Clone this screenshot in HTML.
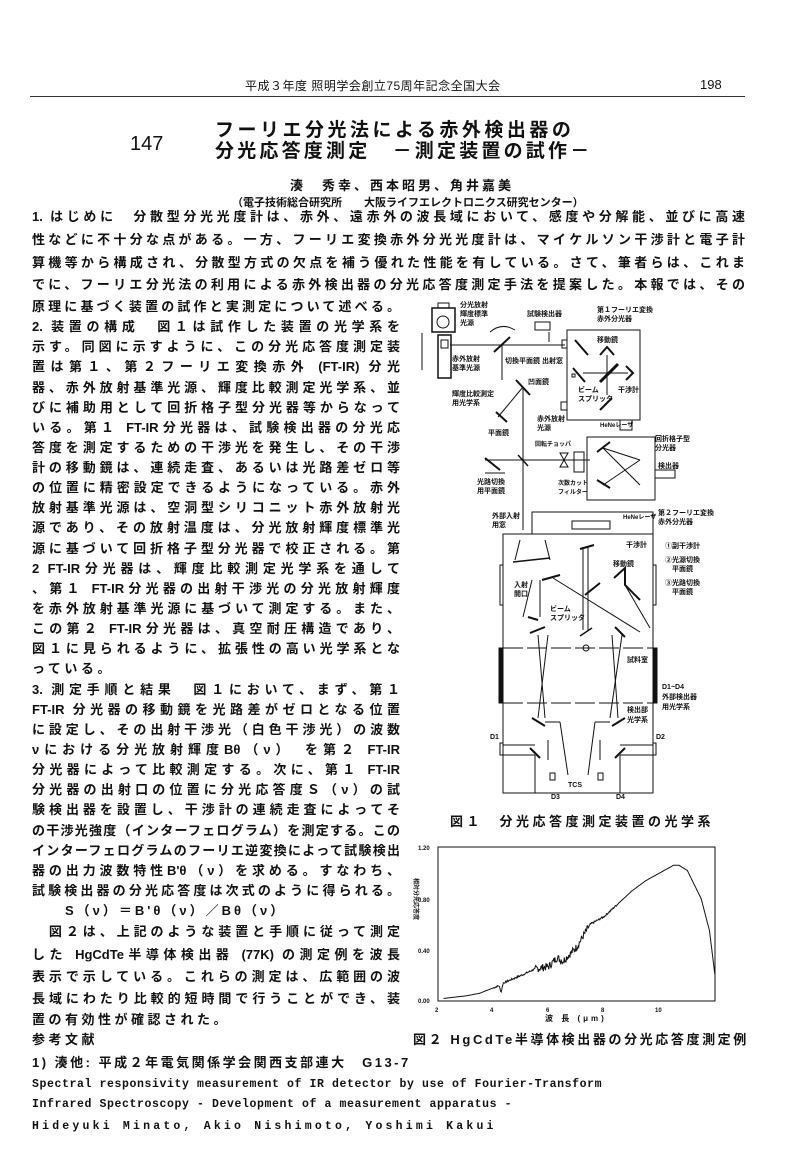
<!DOCTYPE html>
<html><head><meta charset="utf-8">
<style>
html,body{margin:0;padding:0;background:#fff;}
body{width:785px;height:1157px;position:relative;overflow:hidden;font-family:"Liberation Sans","Noto Sans CJK JP",sans-serif;color:#111;}
.t{position:absolute;white-space:nowrap;font-weight:bold;font-size:13px;line-height:14px;}
.j{text-align:justify;text-align-last:justify;white-space:normal;height:14px;overflow:hidden;}
.m{font-family:"Liberation Mono","Noto Sans CJK JP",monospace;}
svg{position:absolute;left:0;top:0;}
svg text{font-family:"Liberation Sans","Noto Sans CJK JP",sans-serif;font-weight:bold;}
</style></head><body>

<div class="t" style="left:245px;top:79px;font-size:12px;font-weight:normal;letter-spacing:0.5px">平成３年度 照明学会創立75周年記念全国大会</div>
<div class="t" style="left:700px;top:78px;font-size:13px;font-weight:normal">198</div>
<div style="position:absolute;left:30px;top:96px;width:715px;height:1px;background:#333"></div>

<div class="t" style="left:130px;top:133px;font-size:20px;line-height:22px;font-weight:normal">147</div>
<div class="t" style="left:215px;top:120px;font-size:19px;line-height:22px;letter-spacing:3.5px">フーリエ分光法による赤外検出器の</div>
<div class="t" style="left:215px;top:141px;font-size:19px;line-height:22px;letter-spacing:3.2px">分光応答度測定　－測定装置の試作－</div>

<div class="t" style="left:290px;top:179px;letter-spacing:3px">湊　秀幸、西本昭男、角井嘉美</div>
<div class="t" style="left:232px;top:197px;font-size:11px;line-height:12px;letter-spacing:0px">（電子技術総合研究所　　大阪ライフエレクトロニクス研究センター）</div>

<div class="t j" style="left:32px;top:210px;width:713px">1. はじめに　分散型分光光度計は、赤外、遠赤外の波長域において、感度や分解能、並びに高速</div>
<div class="t j" style="left:32px;top:233px;width:713px">性などに不十分な点がある。一方、フーリエ変換赤外分光光度計は、マイケルソン干渉計と電子計</div>
<div class="t j" style="left:32px;top:256px;width:713px">算機等から構成され、分散型方式の欠点を補う優れた性能を有している。さて、筆者らは、これま</div>
<div class="t j" style="left:32px;top:278px;width:713px">でに、フーリエ分光法の利用による赤外検出器の分光応答度測定手法を提案した。本報では、その</div>

<div class="t j" style="left:32px;top:300px;width:368px">原理に基づく装置の試作と実測定について述べる。</div>
<div class="t j" style="left:32px;top:320px;width:368px">2. 装置の構成　図１は試作した装置の光学系を</div>
<div class="t j" style="left:32px;top:340px;width:368px">示す。同図に示すように、この分光応答度測定装</div>
<div class="t j" style="left:32px;top:360px;width:368px">置は第１、第２フーリエ変換赤外 (FT-IR) 分光</div>
<div class="t j" style="left:32px;top:381px;width:368px">器、赤外放射基準光源、輝度比較測定光学系、並</div>
<div class="t j" style="left:32px;top:401px;width:368px">びに補助用として回折格子型分光器等からなって</div>
<div class="t j" style="left:32px;top:421px;width:368px">いる。第１ FT-IR分光器は、試験検出器の分光応</div>
<div class="t j" style="left:32px;top:441px;width:368px">答度を測定するための干渉光を発生し、その干渉</div>
<div class="t j" style="left:32px;top:461px;width:368px">計の移動鏡は、連続走査、あるいは光路差ゼロ等</div>
<div class="t j" style="left:32px;top:481px;width:368px">の位置に精密設定できるようになっている。赤外</div>
<div class="t j" style="left:32px;top:501px;width:368px">放射基準光源は、空洞型シリコニット赤外放射光</div>
<div class="t j" style="left:32px;top:521px;width:368px">源であり、その放射温度は、分光放射輝度標準光</div>
<div class="t j" style="left:32px;top:542px;width:368px">源に基づいて回折格子型分光器で校正される。第</div>
<div class="t j" style="left:32px;top:562px;width:368px">2 FT-IR分光器は、輝度比較測定光学系を通して</div>
<div class="t j" style="left:32px;top:582px;width:368px">、第１ FT-IR分光器の出射干渉光の分光放射輝度</div>
<div class="t j" style="left:32px;top:602px;width:368px">を赤外放射基準光源に基づいて測定する。また、</div>
<div class="t j" style="left:32px;top:622px;width:368px">この第２ FT-IR分光器は、真空耐圧構造であり、</div>
<div class="t j" style="left:32px;top:642px;width:368px">図１に見られるように、拡張性の高い光学系とな</div>
<div class="t" style="left:32px;top:662px;letter-spacing:3.5px">っている。</div>
<div class="t j" style="left:32px;top:683px;width:368px">3. 測定手順と結果　図１において、まず、第１</div>
<div class="t j" style="left:32px;top:703px;width:368px">FT-IR 分光器の移動鏡を光路差がゼロとなる位置</div>
<div class="t j" style="left:32px;top:723px;width:368px">に設定し、その出射干渉光（白色干渉光）の波数</div>
<div class="t j" style="left:32px;top:743px;width:368px">νにおける分光放射輝度Bθ（ν）　を第２ FT-IR</div>
<div class="t j" style="left:32px;top:763px;width:368px">分光器によって比較測定する。次に、第１ FT-IR</div>
<div class="t j" style="left:32px;top:783px;width:368px">分光器の出射口の位置に分光応答度Ｓ（ν）の試</div>
<div class="t j" style="left:32px;top:803px;width:368px">験検出器を設置し、干渉計の連続走査によってそ</div>
<div class="t j" style="left:32px;top:824px;width:368px">の干渉光強度（インターフェログラム）を測定する。この</div>
<div class="t j" style="left:32px;top:844px;width:368px">インターフェログラムのフーリエ逆変換によって試験検出</div>
<div class="t j" style="left:32px;top:864px;width:368px">器の出力波数特性B'θ（ν）を求める。すなわち、</div>
<div class="t j" style="left:32px;top:884px;width:368px">試験検出器の分光応答度は次式のように得られる。</div>
<div class="t" style="left:65px;top:904px;letter-spacing:3px">S（ν）＝B'θ（ν）／Bθ（ν）</div>
<div class="t j" style="left:32px;top:925px;width:368px">　図２は、上記のような装置と手順に従って測定</div>
<div class="t j" style="left:32px;top:948px;width:368px">した HgCdTe半導体検出器 (77K) の測定例を波長</div>
<div class="t j" style="left:32px;top:970px;width:368px">表示で示している。これらの測定は、広範囲の波</div>
<div class="t j" style="left:32px;top:992px;width:368px">長域にわたり比較的短時間で行うことができ、装</div>
<div class="t" style="left:32px;top:1013px;letter-spacing:3.5px">置の有効性が確認された。</div>
<div class="t" style="left:32px;top:1033px;letter-spacing:3.5px">参考文献</div>
<div class="t" style="left:32px;top:1056px;letter-spacing:2.5px">1) 湊他: 平成２年電気関係学会関西支部連大　G13-7</div>
<div class="t m" style="left:32px;top:1078px;font-size:11.5px;letter-spacing:0.6px">Spectral responsivity measurement of IR detector by use of Fourier-Transform</div>
<div class="t m" style="left:32px;top:1098px;font-size:11.5px;letter-spacing:0.6px">Infrared Spectroscopy  - Development of a measurement apparatus -</div>
<div class="t m" style="left:32px;top:1120px;font-size:11.5px;letter-spacing:3.2px">Hideyuki Minato, Akio Nishimoto, Yoshimi Kakui</div>

<div class="t" style="left:450px;top:815px;letter-spacing:3.5px">図１　分光応答度測定装置の光学系</div>
<div class="t" style="left:413px;top:1033px;letter-spacing:2.6px">図２ HgCdTe半導体検出器の分光応答度測定例</div>

<svg width="785" height="1157" viewBox="0 0 785 1157" fill="none" stroke="#111" stroke-width="1">
<g font-size="7" fill="#111" stroke="none">
<text x="460" y="307">分光放射</text><text x="460" y="316">輝度標準</text><text x="460" y="325">光源</text>
<text x="527" y="316">試験検出器</text>
<text x="597" y="312">第１フーリエ変換</text><text x="597" y="321">赤外分光器</text>
<text x="597" y="342">移動鏡</text>
<text x="452" y="361">赤外放射</text><text x="452" y="370">基準光源</text>
<text x="505" y="363">切換平面鏡 出射窓</text>
<text x="528" y="384">凹面鏡</text>
<text x="452" y="396">輝度比較測定</text><text x="452" y="405">用光学系</text>
<text x="578" y="392">ビーム</text><text x="578" y="401">スプリッタ</text>
<text x="618" y="392">干渉計</text>
<text x="537" y="421">赤外放射</text><text x="537" y="430">光源</text>
<text x="600" y="427" font-size="6">HeNeレーザ</text>
<text x="488" y="435">平面鏡</text>
<text x="535" y="446" font-size="6">回転チョッパ</text>
<text x="655" y="441">回折格子型</text><text x="655" y="450">分光器</text>
<text x="658" y="468">検出器</text>
<text x="477" y="484">光路切換</text><text x="477" y="493">用平面鏡</text>
<text x="558" y="485" font-size="6">次数カット</text><text x="558" y="494" font-size="6">フィルター</text>
<text x="492" y="518">外部入射</text><text x="492" y="527">用窓</text>
<text x="623" y="519" font-size="6">HeNeレーザ</text>
<text x="658" y="515">第２フーリエ変換</text><text x="658" y="524">赤外分光器</text>
<text x="626" y="547">干渉計</text>
<text x="665" y="548">①副干渉計</text>
<text x="665" y="562">②光源切換</text><text x="672" y="571">平面鏡</text>
<text x="665" y="585">③光路切換</text><text x="672" y="594">平面鏡</text>
<text x="613" y="566">移動鏡</text>
<text x="514" y="587">入射</text><text x="514" y="596">開口</text>
<text x="550" y="611">ビーム</text><text x="550" y="620">スプリッタ</text>
<text x="627" y="662">試料室</text>
<text x="662" y="689">D1~D4</text><text x="662" y="699">外部検出器</text><text x="662" y="709">用光学系</text>
<text x="627" y="712">検出部</text><text x="627" y="722">光学系</text>
<text x="490" y="739">D1</text><text x="656" y="739">D2</text>
<text x="568" y="787">TCS</text>
<text x="551" y="799">D3</text><text x="616" y="799">D4</text>
</g>
<rect x="432" y="308" width="23" height="24" stroke-width="1.5"/>
<circle cx="443" cy="322" r="6"/>
<rect x="438" y="303" width="11" height="5"/>
<rect x="438" y="335" width="13" height="43" stroke-width="1.5"/>
<rect x="441" y="340" width="7" height="8"/>
<line x1="422" y1="333" x2="422" y2="370"/>
<line x1="450" y1="345" x2="565" y2="345"/>
<line x1="494" y1="352" x2="510" y2="337" stroke-width="2"/>
<path d="M490 332 Q502 322 515 330"/>
<rect x="535" y="322" width="15" height="8"/>
<line x1="549" y1="332" x2="549" y2="342"/>
<rect x="567" y="330" width="73" height="90"/>
<rect x="562" y="340" width="5" height="8"/>
<line x1="575" y1="340" x2="588" y2="355" stroke-width="2"/>
<line x1="573" y1="368" x2="585" y2="382" stroke-width="2"/>
<line x1="600" y1="382" x2="618" y2="364" stroke-width="3"/>
<path d="M600 355 L607 347 L614 355" stroke-width="2"/>
<path d="M626 366 L633 373 L626 380" stroke-width="2"/>
<line x1="607" y1="355" x2="607" y2="395"/><line x1="583" y1="373" x2="628" y2="373"/>
<line x1="600" y1="410" x2="612" y2="398" stroke-width="2"/>
<rect x="561" y="402" width="6" height="8"/>
<rect x="620" y="420" width="12" height="10"/>
<rect x="572" y="374" width="3" height="3"/>
<line x1="502" y1="345" x2="502" y2="380"/>
<line x1="516" y1="380" x2="530" y2="395" stroke-width="2"/>
<line x1="523" y1="387" x2="498" y2="417"/>
<line x1="496" y1="412" x2="507" y2="422" stroke-width="2"/>
<line x1="523" y1="387" x2="523" y2="530"/>
<line x1="485" y1="460" x2="590" y2="460"/>
<line x1="485" y1="458" x2="500" y2="470" stroke-width="2"/>
<line x1="518" y1="455" x2="528" y2="466" stroke-width="1.5"/>
<path d="M560 453 L568 467 L560 467 L568 453 Z"/>
<rect x="574" y="452" width="10" height="20"/>
<rect x="587" y="437" width="68" height="63"/>
<line x1="597" y1="452" x2="610" y2="442" stroke-width="2"/>
<line x1="597" y1="480" x2="610" y2="488" stroke-width="2"/>
<line x1="603" y1="448" x2="640" y2="460"/><line x1="603" y1="448" x2="640" y2="485"/>
<line x1="603" y1="485" x2="640" y2="460"/>
<rect x="655" y="470" width="20" height="8"/>
<line x1="485" y1="473" x2="505" y2="473"/>
<rect x="532" y="512" width="121" height="22"/>
<rect x="572" y="521" width="38" height="8"/>
<rect x="503" y="534" width="150" height="259"/>
<line x1="503" y1="534" x2="532" y2="534"/>
<rect x="500" y="565" width="3" height="40"/><rect x="653" y="565" width="3" height="40"/>
<rect x="499" y="648" width="4" height="55" fill="#111"/><rect x="653" y="648" width="4" height="55" fill="#111"/>
<line x1="503" y1="648" x2="653" y2="648" stroke-dasharray="20 4"/>
<line x1="503" y1="703" x2="653" y2="703" stroke-dasharray="20 4"/>
<line x1="520" y1="540" x2="515" y2="560"/><line x1="545" y1="540" x2="550" y2="560"/>
<line x1="513" y1="562" x2="550" y2="558" stroke-width="1.5"/>
<line x1="532" y1="580" x2="523" y2="617"/><line x1="540" y1="580" x2="540" y2="617"/>
<line x1="528" y1="617" x2="538" y2="620" stroke-width="2"/>
<line x1="542" y1="580" x2="560" y2="575" stroke-width="2"/>
<line x1="553" y1="578" x2="640" y2="632"/>
<line x1="583" y1="547" x2="583" y2="630"/><line x1="588" y1="547" x2="588" y2="630"/>
<line x1="580" y1="549" x2="594" y2="545" stroke-width="2"/>
<path d="M614 578 L625 568 L625 585 L640 600" stroke-width="2"/>
<line x1="625" y1="585" x2="650" y2="628"/>
<line x1="585" y1="595" x2="600" y2="583" stroke-width="2"/>
<line x1="530" y1="633" x2="545" y2="627" stroke-width="2"/>
<line x1="615" y1="627" x2="625" y2="637" stroke-width="2"/>
<line x1="580" y1="636" x2="592" y2="628" stroke-width="1.5"/>
<circle cx="586" cy="648" r="3"/>
<line x1="538" y1="635" x2="545" y2="718"/><line x1="548" y1="635" x2="538" y2="718"/>
<line x1="612" y1="635" x2="618" y2="718"/><line x1="622" y1="635" x2="610" y2="718"/>
<line x1="532" y1="718" x2="545" y2="726" stroke-width="2"/>
<line x1="625" y1="718" x2="612" y2="726" stroke-width="2"/>
<line x1="545" y1="722" x2="560" y2="722"/><line x1="610" y1="722" x2="595" y2="722"/>
<line x1="560" y1="722" x2="568" y2="775"/><line x1="595" y1="722" x2="588" y2="775"/>
<rect x="500" y="743" width="3" height="12"/><rect x="653" y="743" width="3" height="12"/>
<line x1="503" y1="745" x2="535" y2="745"/><line x1="503" y1="755" x2="535" y2="755"/>
<line x1="653" y1="745" x2="620" y2="745"/><line x1="653" y1="755" x2="620" y2="755"/>
<line x1="530" y1="748" x2="540" y2="758" stroke-width="2"/>
<line x1="625" y1="748" x2="615" y2="758" stroke-width="2"/>
<line x1="548" y1="740" x2="548" y2="760"/><line x1="600" y1="740" x2="600" y2="760"/>
<rect x="550" y="773" width="5" height="7"/><rect x="598" y="773" width="5" height="7"/>
<line x1="535" y1="755" x2="535" y2="793"/><line x1="620" y1="755" x2="620" y2="793"/>

<rect x="438" y="847" width="277" height="154"/>
<g font-size="6" fill="#111" stroke="none" font-family="Liberation Mono, monospace">
<text x="418" y="850">1.20</text><text x="418" y="902">0.80</text><text x="418" y="953">0.40</text><text x="418" y="1003">0.00</text>
<text x="435" y="1012">2</text><text x="490" y="1012">4</text><text x="546" y="1012">6</text><text x="601" y="1012">8</text><text x="655" y="1012">10</text>
</g>
<text x="545" y="1021" font-size="8" fill="#111" stroke="none" letter-spacing="3">波 長 (μm)</text>
<text x="0" y="0" font-size="6" fill="#111" stroke="none" transform="translate(414,878) rotate(90)">相対分光応答度</text>
<polyline id="cv" stroke-width="1" points=""/>
</svg>
<script>
var pts=[[2.2,0.02],[3,0.04],[3.5,0.06],[4.2,0.12],[4.28,0.07],[4.35,0.14],[5,0.2],[5.5,0.25],[6,0.27],[6.3,0.34],[6.5,0.31],[7,0.42],[7.5,0.6],[8,0.66],[8.5,0.76],[9,0.86],[9.5,0.94],[10,1.0],[10.5,1.06],[10.7,1.06],[11,1.02],[11.5,0.8],[11.8,0.55],[12,0.2]];
function f(x){for(var i=0;i<pts.length-1;i++){if(x<=pts[i+1][0]){var a=pts[i],b=pts[i+1],t=(x-a[0])/(b[0]-a[0]);return a[1]+t*(b[1]-a[1]);}}return 0.2;}
var s=[],seed=7;function r(){seed=(seed*9301+49297)%233280;return seed/233280-0.5;}
for(var x=2.2;x<=12;x+=0.02){var y=f(x);var n=0;if(x>5.5&&x<7.4)n=r()*0.06;else if(x>4&&x<8.5)n=r()*0.015;y+=n;s.push((438+(x-2)*27.7).toFixed(1)+","+(1001-y*128).toFixed(1));}
document.getElementById("cv").setAttribute("points",s.join(" "));
</script>
</body></html>
